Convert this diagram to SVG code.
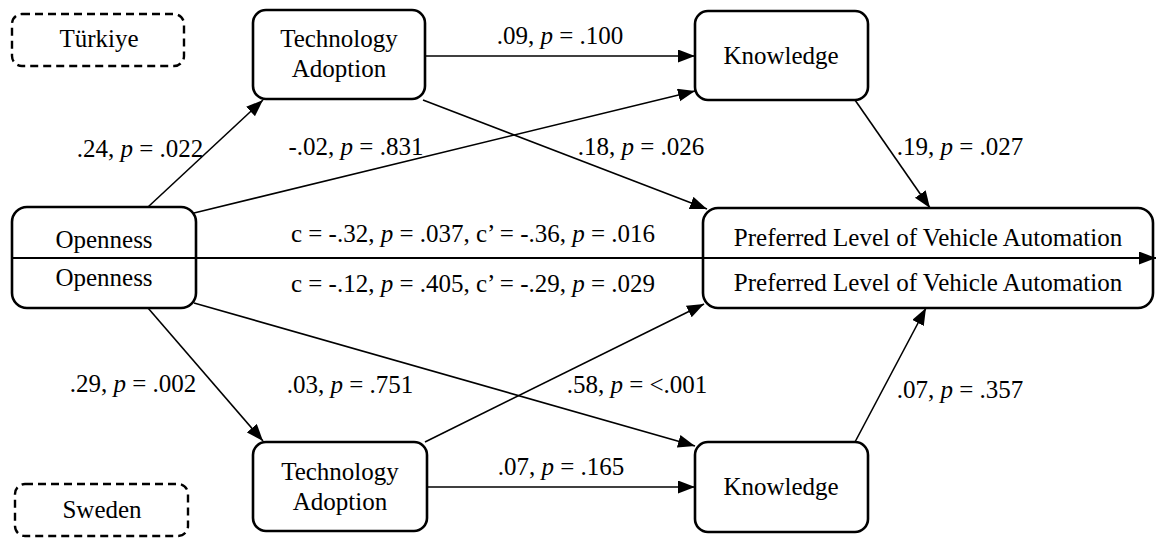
<svg xmlns="http://www.w3.org/2000/svg" width="1156" height="538" viewBox="0 0 1156 538">
<style>
text{font-family:'Liberation Serif','Times New Roman',serif;font-size:25px;fill:#000;text-anchor:middle}
.i{font-style:italic}
.box{fill:#fff;stroke:#000;stroke-width:2.6}
.dash{fill:none;stroke:#000;stroke-width:2.4;stroke-dasharray:8,5}
.c{stroke:#000;stroke-width:1.6;fill:none;marker-end:url(#ah)}
</style>
<defs>
<marker id="ah" markerUnits="userSpaceOnUse" markerWidth="18" markerHeight="14" refX="17" refY="6.5" orient="auto">
<path d="M0,0 L17,6.5 L0,13 z" fill="#000"/>
</marker>
</defs>
<g id="turkiye"><rect class="dash" x="12" y="14" width="172" height="52" rx="10"/><text x="99" y="47">Türkiye</text></g>
<g id="sweden"><rect class="dash" x="15" y="484" width="173" height="52" rx="10"/><text x="102" y="518">Sweden</text></g>
<g id="techTop"><rect class="box" x="253" y="10" width="172" height="89" rx="13"/><text x="339" y="47">Technology</text><text x="339" y="77">Adoption</text></g>
<g id="knowTop"><rect class="box" x="695" y="11" width="173" height="89" rx="13"/><text x="781" y="64">Knowledge</text></g>
<g id="openness"><rect class="box" x="12" y="207" width="184" height="101" rx="15"/><text x="104" y="248">Openness</text><text x="104" y="286">Openness</text></g>
<g id="plva"><rect class="box" x="703" y="208" width="450" height="100" rx="15"/><text x="928" y="246">Preferred Level of Vehicle Automation</text><text x="928" y="291">Preferred Level of Vehicle Automation</text></g>
<g id="techBot"><rect class="box" x="253" y="442" width="174" height="89" rx="13"/><text x="340" y="480">Technology</text><text x="340" y="510">Adoption</text></g>
<g id="knowBot"><rect class="box" x="695" y="442" width="173" height="90" rx="13"/><text x="781" y="495">Knowledge</text></g>
<g id="connectors">
<line class="c" x1="12" y1="258" x2="1156" y2="258" style="stroke-width:2.2"/>
<line class="c" x1="148" y1="207" x2="263" y2="100"/>
<line class="c" x1="194" y1="213" x2="695" y2="91"/>
<line class="c" x1="425" y1="56" x2="695" y2="56"/>
<line class="c" x1="423" y1="100" x2="707" y2="209"/>
<line class="c" x1="855" y1="100" x2="930" y2="208"/>
<line class="c" x1="148" y1="308" x2="263" y2="441"/>
<line class="c" x1="194" y1="303" x2="695" y2="446"/>
<line class="c" x1="427" y1="487" x2="695" y2="487"/>
<line class="c" x1="425" y1="442" x2="704" y2="304"/>
<line class="c" x1="855" y1="442" x2="926" y2="308"/>
</g>
<g id="labels">
<text x="140" y="157">.24, <tspan class="i">p</tspan> = .022</text>
<text x="356" y="155">-.02, <tspan class="i">p</tspan> = .831</text>
<text x="560" y="44">.09, <tspan class="i">p</tspan> = .100</text>
<text x="641" y="155">.18, <tspan class="i">p</tspan> = .026</text>
<text x="960" y="155">.19, <tspan class="i">p</tspan> = .027</text>
<text x="473" y="242">c = -.32, <tspan class="i">p</tspan> = .037, c’ = -.36, <tspan class="i">p</tspan> = .016</text>
<text x="473" y="292">c = -.12, <tspan class="i">p</tspan> = .405, c’ = -.29, <tspan class="i">p</tspan> = .029</text>
<text x="133" y="392">.29, <tspan class="i">p</tspan> = .002</text>
<text x="350" y="393">.03, <tspan class="i">p</tspan> = .751</text>
<text x="637" y="393">.58, <tspan class="i">p</tspan> = &lt;.001</text>
<text x="960" y="398">.07, <tspan class="i">p</tspan> = .357</text>
<text x="561" y="475">.07, <tspan class="i">p</tspan> = .165</text>
</g>
</svg>
